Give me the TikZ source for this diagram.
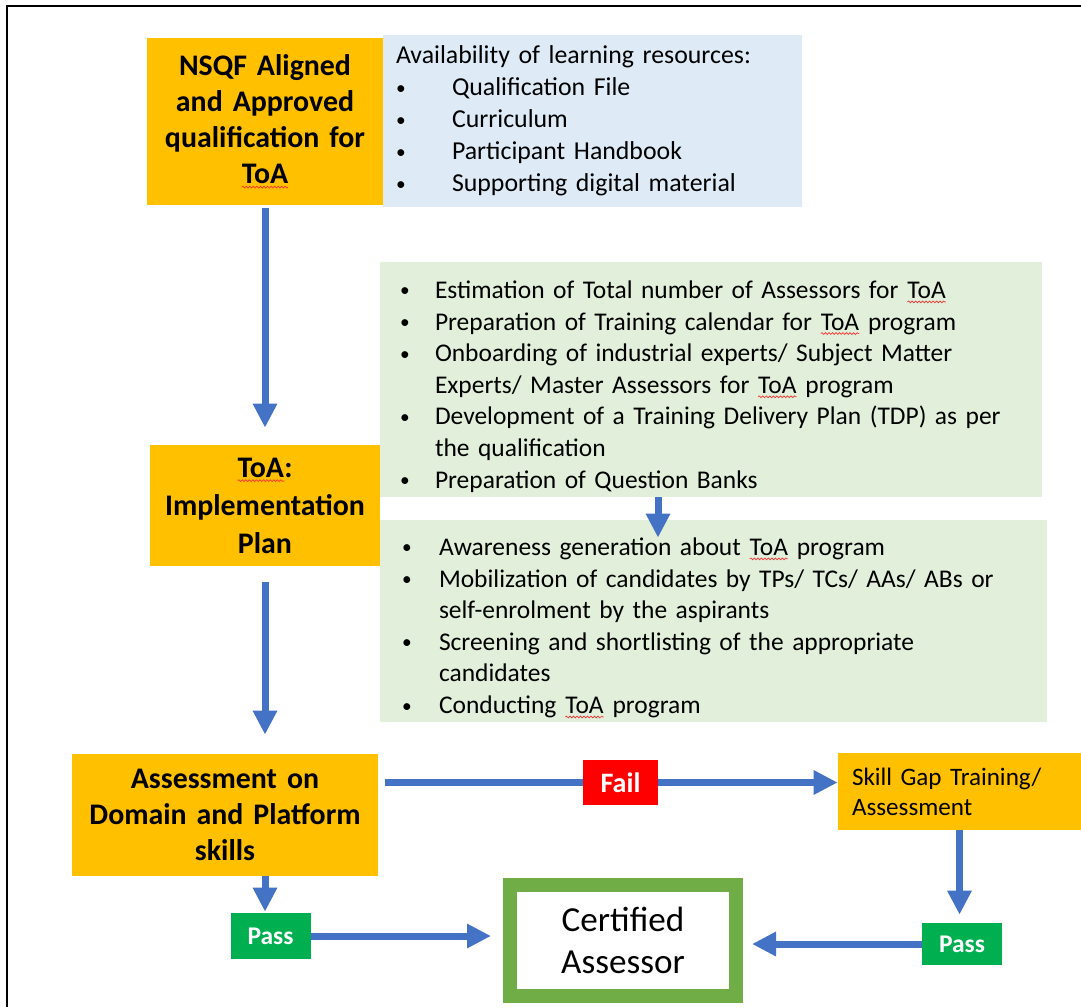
\documentclass[tikz,border=0pt]{standalone}
\usepackage{fontspec}
\setmainfont{Carlito}
\usetikzlibrary{arrows.meta,calc,decorations.pathmorphing}

\newlength\px
\setlength\px{0.02cm}

\definecolor{boxorange}{HTML}{FFC000}
\definecolor{resblue}{HTML}{DEEBF7}
\definecolor{stepgreen}{HTML}{E2EFDA}
\definecolor{flowblue}{HTML}{4472C4}
\definecolor{failred}{HTML}{FF0000}
\definecolor{passgreen}{HTML}{00B050}
\definecolor{certgreen}{HTML}{70AD47}

% spell-check squiggle under a word
\newcommand{\spell}[1]{\tikz[baseline=(w.base), x=1cm, y=1cm]{%
  \node[inner sep=0pt, outer sep=0pt, text width=, minimum width=0pt, minimum height=0pt,
    fill=none, draw=none, font=] (w) {#1};
  \draw[red!80, line width=0.4pt, decorate, decoration={snake, amplitude=0.5pt, segment length=2pt}]
    ([yshift=-2pt]w.base west) -- ([yshift=-2pt]w.base east);}}
% bullet item with hanging indent
\newcommand{\bul}[2][35\px]{\par\noindent\hangindent=#1\hangafter=1%
  \makebox[#1][l]{\raisebox{0.8pt}{\fontsize{11}{11}\selectfont\textbullet}}#2}

\begin{document}
\begin{tikzpicture}[x=0.02cm, y=-0.02cm,
    headbox/.style={fill=boxorange, inner sep=0pt, align=center, font=\bfseries\fontsize{17}{20.5}\selectfont},
    listbox/.style={inner sep=0pt, align=left, font=\fontsize{14.5}{18}\selectfont},
    tagbox/.style={inner sep=0pt, text=white, font=\bfseries\fontsize{14.5}{16}\selectfont},
    flowline/.style={draw=flowblue, line width=0.14cm},
    flowarrow/.style={flowline, -{Triangle[width=0.46cm,length=0.48cm]}}]

	\useasboundingbox (0,0) rectangle (1081,1007);
	\draw[line width=0.05cm] (7,1007) -- (7,6) -- (1081,6);

	% left column
	\node[headbox, minimum width=236\px, minimum height=167\px, text width=230\px] (nsqf) at (265,121.5)
		{NSQF Aligned\\ and Approved\\ qualification for\\ \spell{ToA}};
	\node[headbox, minimum width=230\px, minimum height=121\px, text width=224\px,
		font=\bfseries\fontsize{17}{21.6}\selectfont] (impl) at (265,505.5)
		{\spell{ToA}:\\ Implementation\\ Plan};
	\node[headbox, minimum width=306\px, minimum height=122\px, text width=300\px] (assess) at (225,815)
		{Assessment on\\ Domain and Platform\\ skills};

	% lists
	\node[listbox, fill=resblue, minimum width=419\px, minimum height=172\px, text width=393\px,
		font=\fontsize{14.7}{18.2}\selectfont] (res) at (592.5,121)
		{\noindent Availability of learning resources:
		\bul[56\px]{Qualification File}
		\bul[56\px]{Curriculum}
		\bul[56\px]{Participant Handbook}
		\bul[56\px]{Supporting digital material}};
	\node[listbox, fill=stepgreen, minimum width=662\px, minimum height=235\px, text width=622\px] (plan) at (711,379.5)
		{\bul{Estimation of Total number of Assessors for \spell{ToA}}
		\bul{Preparation of Training calendar for \spell{ToA} program}
		\bul{Onboarding of industrial experts/ Subject Matter\break Experts/ Master Assessors for \spell{ToA} program}
		\bul{Development of a Training Delivery Plan (TDP) as per\break the qualification}
		\bul{Preparation of Question Banks}};
	\node[listbox, fill=stepgreen, minimum width=667\px, minimum height=202\px, text width=623\px] (drive) at (713.5,621)
		{\bul[37\px]{Awareness generation about \spell{ToA} program}
		\bul[37\px]{Mobilization of candidates by TPs/ TCs/ AAs/ ABs or\break self-enrolment by the aspirants}
		\bul[37\px]{Screening and shortlisting of the appropriate\break candidates}
		\bul[37\px]{Conducting \spell{ToA} program}};

	% outcome boxes
	\node[tagbox, fill=failred, minimum width=75\px, minimum height=45\px, font=\bfseries\fontsize{16}{18}\selectfont]
		(fail) at (620.5,782.5) {Fail};
	\node[fill=boxorange, inner sep=0pt, align=left, minimum width=243\px, minimum height=77\px, text width=215\px,
		font=\fontsize{14.3}{17}\selectfont] (skill) at (959.5,791.5) {Skill Gap Training/\\ Assessment};
	\node[tagbox, fill=passgreen, minimum width=80\px, minimum height=46\px] (passA) at (270.5,936) {Pass};
	\node[tagbox, fill=passgreen, minimum width=80\px, minimum height=42\px] (passB) at (962,944) {Pass};
	\node[draw=certgreen, line width=0.28cm, fill=white, inner sep=0pt, align=center,
		minimum width=226\px, minimum height=111\px, font=\fontsize{20}{24}\selectfont] (cert) at (623,940.5)
		{Certified\\ Assessor};

	% connectors
	\draw[flowarrow] ([yshift=-0.06cm]nsqf.south) -- ([yshift=0.34cm]impl.north);
	\draw[flowarrow] ($(plan.south)+(-53,0)$) -- ($(drive.north)+(-55.5,18)$);
	\draw[flowarrow] ([yshift=-0.32cm]impl.south) -- ($(impl.south |- assess.north)+(0,-19)$);
	\draw[flowarrow] (impl.south |- assess.south) -- ($(impl.south |- passA.north)+(0,-1)$);
	\draw[flowline] ($(assess.east |- fail.west)+(7,0)$) -- (fail.west);
	\draw[flowarrow] (fail.east) -- (fail.east -| skill.west);
	\draw[flowarrow] (skill.south) -- ($(skill.south |- passB.north)+(0,-8)$);
	\draw[flowarrow] (passA.east) -- ($(cert.west |- passA.east)+(-12,0)$);
	\draw[flowarrow] (passB.west) -- ($(cert.east |- passB.west)+(9,0)$);

\end{tikzpicture}
\end{document}
